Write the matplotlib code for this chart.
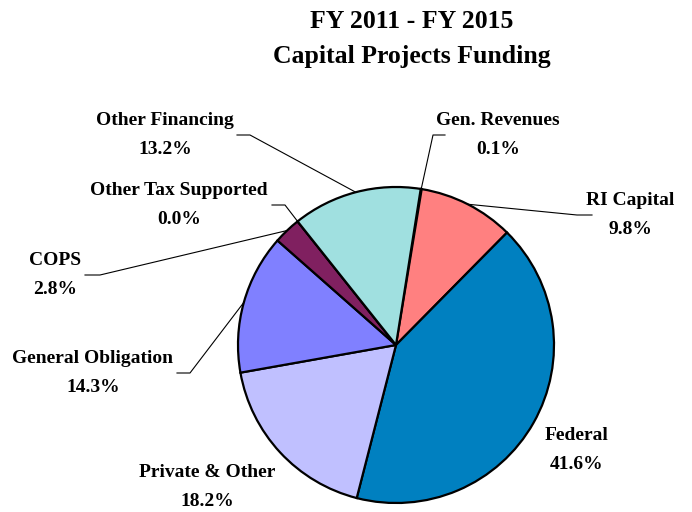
import numpy as np
import matplotlib
matplotlib.use('Agg')
import matplotlib.pyplot as plt

plt.rcParams['font.family'] = ['Liberation Serif', 'DejaVu Serif']

labels = ['Gen. Revenues', 'RI Capital', 'Federal', 'Private & Other',
          'General Obligation', 'COPS', 'Other Tax Supported', 'Other Financing']
shares = [0.1, 9.8, 41.6, 18.2, 14.3, 2.8, 0.0, 13.2]
colors = ['#6A1BC0', '#FF8080', '#0080C0', '#C0C0FF',
          '#8080FF', '#802060', '#FFFFCC', '#A0E0E0']

# label text positions (pixel coords, y from top) and whether a leader line is drawn
text_pos = [(498, 135), (630, 215), (577, 450), (207, 487),
            (93, 373), (55, 275), (179, 205), (165, 135)]
leader_x = [(433, 445), (577, 592), None, None,
            (177, 190), (85, 100), (272, 285), (237, 250)]

H = 512
cx, cy, R = 396, H - 345, 158
start = 81

fig = plt.figure(figsize=(6.92, 5.12), dpi=100)
ax = fig.add_axes([0, 0, 1, 1])
wedges, _ = ax.pie(shares, colors=colors, startangle=start, counterclock=False,
                   center=(cx, cy), radius=R,
                   wedgeprops=dict(edgecolor='black', linewidth=1.6))
ax.set_xlim(0, 692)
ax.set_ylim(0, H)
ax.set_aspect('equal')
ax.axis('off')

ang = start
for lab, s, (tx, ty), lx in zip(labels, shares, text_pos, leader_x):
    mid = ang - s * 3.6 / 2
    ang -= s * 3.6
    ax.text(tx, H - ty, f'{lab}\n{s:.1f}%', ha='center', va='center',
            fontsize=14, fontweight='bold', linespacing=1.85)
    if lx is None:
        continue
    ex = cx + R * np.cos(np.radians(mid))
    ey = cy + R * np.sin(np.radians(mid))
    # horizontal stub next to the label, then straight to the wedge edge
    near = lx[1] if ex > lx[1] else lx[0]
    far = lx[0] if near == lx[1] else lx[1]
    ax.plot([far, near, ex], [H - ty, H - ty, ey], color='black', lw=0.8)

ax.text(412, H - 21, 'FY 2011 - FY 2015', ha='center', va='center',
        fontsize=18.5, fontweight='bold')
ax.text(412, H - 57, 'Capital Projects Funding', ha='center', va='center',
        fontsize=18.5, fontweight='bold')

fig.savefig('out.png', dpi=100)
